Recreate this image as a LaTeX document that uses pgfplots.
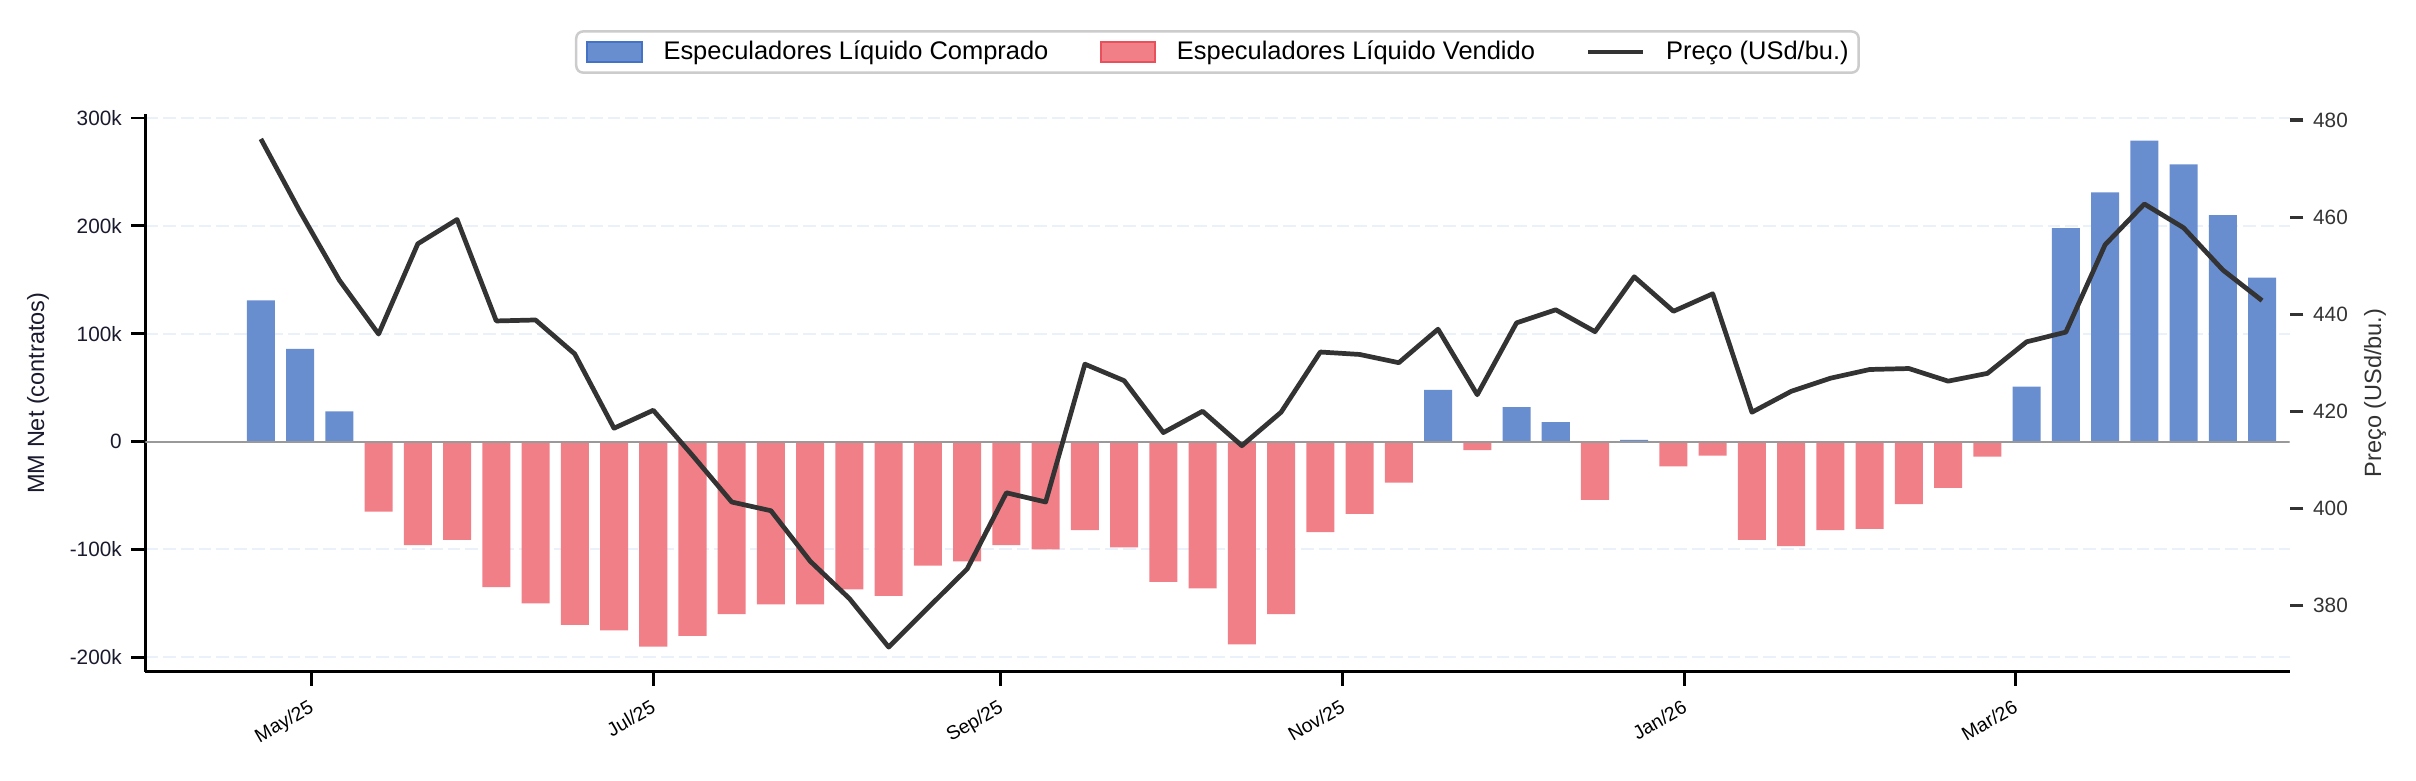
\documentclass[border=0pt]{standalone}
\usepackage{pgfplots}
\usepackage{pgfplotstable}
\pgfplotsset{compat=1.18}
\usepackage{fontspec}
\setmainfont{Liberation Sans}

\definecolor{longfill}{HTML}{698ED0}
\definecolor{longedge}{HTML}{4472C4}
\definecolor{shortfill}{HTML}{F17F87}
\definecolor{shortedge}{HTML}{E8505B}
\definecolor{priceline}{HTML}{333333}
\definecolor{gridblue}{HTML}{EAF1FB}
\definecolor{navy}{HTML}{1A1A2E}
\definecolor{legedge}{HTML}{CCCCCC}
\definecolor{zeroline}{HTML}{999999}

% Managed-money net position (thousand contracts), weekly; day 0 = 22 Apr 2025
\pgfplotstableread{
day net
0 131
7 86
14 28
210 48
224 32
231 18
245 1.5
315 51
322 198
329 231
336 279
343 257
350 210
357 152
}\netlong

\pgfplotstableread{
day net
21 -65
28 -96
35 -91
42 -135
49 -150
56 -170
63 -175
70 -190
77 -180
84 -160
91 -151
98 -151
105 -137
112 -143
119 -115
126 -111
133 -96
140 -100
147 -82
154 -98
161 -130
168 -136
175 -188
182 -160
189 -84
196 -67
203 -38
217 -8
238 -54
252 -23
259 -13
266 -91
273 -97
280 -82
287 -81
294 -58
301 -43
308 -14
}\netshort

% Price (USd/bu.)
\pgfplotstableread{
day price
0 476.1
7 461.1
14 447.0
21 435.9
28 454.5
35 459.5
42 438.6
49 438.8
56 431.8
63 416.5
70 420.2
77 410.9
84 401.3
91 399.5
98 389.1
105 381.4
112 371.4
119 379.5
126 387.5
133 403.2
140 401.3
147 429.7
154 426.3
161 415.6
168 420.0
175 412.9
182 419.8
189 432.2
196 431.7
203 430.0
210 436.9
217 423.4
224 438.2
231 440.9
238 436.4
245 447.7
252 440.6
259 444.2
266 419.8
273 424.1
280 426.8
287 428.6
294 428.8
301 426.2
308 427.8
315 434.3
322 436.3
329 454.3
336 462.7
343 457.8
350 449.1
357 442.8
}\price

\begin{document}
\begin{tikzpicture}
\path[use as bounding box] (-52.34bp,-39.28bp) rectangle (817.42bp,241.88bp);

\begin{axis}[
  at={(0,0)}, anchor=south west,
  scale only axis, width=771.88bp, height=200.77bp,
  xmin=-20.6, xmax=361.9, ymin=-213.5, ymax=303.5,
  axis x line*=bottom, axis y line*=left,
  axis line style={line width=1.1bp, black},
  xtick={9,70,132,193,254,313},
  xticklabels={May/25,Jul/25,Sep/25,Nov/25,Jan/26,Mar/26},
  ytick={-200,-100,0,100,200,300},
  yticklabels={-200k,-100k,0,100k,200k,300k},
  tick align=outside, major tick length=5bp,
  tick style={black, line width=1bp},
  ymajorgrids,
  major grid style={gridblue, line width=0.7bp, dash pattern=on 4.6bp off 1.8bp},
  xticklabel style={font=\fontsize{7}{8}\selectfont, rotate=30, anchor=north east},
  yticklabel style={font=\fontsize{7.5}{9}\selectfont, color=navy},
  ylabel={MM Net (contratos)},
  ylabel style={font=\fontsize{8.5}{10}\selectfont, color=navy,
    at={(axis description cs:-0.0501,0.5)}, anchor=center},
]
\addplot[ybar, bar width=5, fill=longfill, draw=none] table[x=day, y=net] {\netlong};
\addplot[ybar, bar width=5, fill=shortfill, draw=none] table[x=day, y=net] {\netshort};
\addplot[zeroline, line width=0.7bp] coordinates {(-20.6,0) (361.9,0)};
\end{axis}

\begin{axis}[
  at={(0,0)}, anchor=south west,
  scale only axis, width=771.88bp, height=200.77bp,
  xmin=-20.6, xmax=361.9, ymin=366.3, ymax=481.2,
  axis x line=none, axis y line*=right,
  y axis line style={draw=none},
  ytick={380,400,420,440,460,480},
  tick align=outside, major tick length=5bp,
  tick style={priceline, line width=1.1bp},
  /pgf/number format/assume math mode=true,
  yticklabel style={font=\fontsize{7.5}{9}\selectfont, color=priceline},
  ylabel={Preço (USd/bu.)},
  ylabel style={font=\fontsize{8.5}{10}\selectfont, color=priceline,
    at={(axis description cs:1.0399,0.5)}, anchor=center},
  legend columns=3,
  legend cell align=left,
  legend style={at={(0.5,1)}, anchor=south, yshift=14.5bp,
    draw=legedge, line width=0.9bp, rounded corners=2.5bp,
    font=\fontsize{9.2}{11}\selectfont,
    inner xsep=3.6bp, inner ysep=3.3bp,
    nodes={inner sep=0pt},
    /tikz/every odd column/.append style={column sep=7.5bp},
    /tikz/every even column/.append style={column sep=18.4bp}},
]
\addlegendimage{legend image code/.code={
  \draw[fill=longfill, draw=longedge, line width=0.72bp, sharp corners]
    (0bp,-3.65bp) rectangle (19.6bp,3.65bp);}}
\addlegendentry{Especuladores Líquido Comprado}
\addlegendimage{legend image code/.code={
  \draw[fill=shortfill, draw=shortedge, line width=0.72bp, sharp corners]
    (0bp,-3.65bp) rectangle (19.6bp,3.65bp);}}
\addlegendentry{Especuladores Líquido Vendido}
\addplot[priceline, line width=1.7bp, line join=round,
  legend image code/.code={
    \draw[priceline, line width=1.7bp, sharp corners] (0bp,0bp) -- (19.6bp,0bp);}]
  table[x=day, y=price] {\price};
\addlegendentry{Preço (USd/bu.)}
\end{axis}
\end{tikzpicture}
\end{document}
